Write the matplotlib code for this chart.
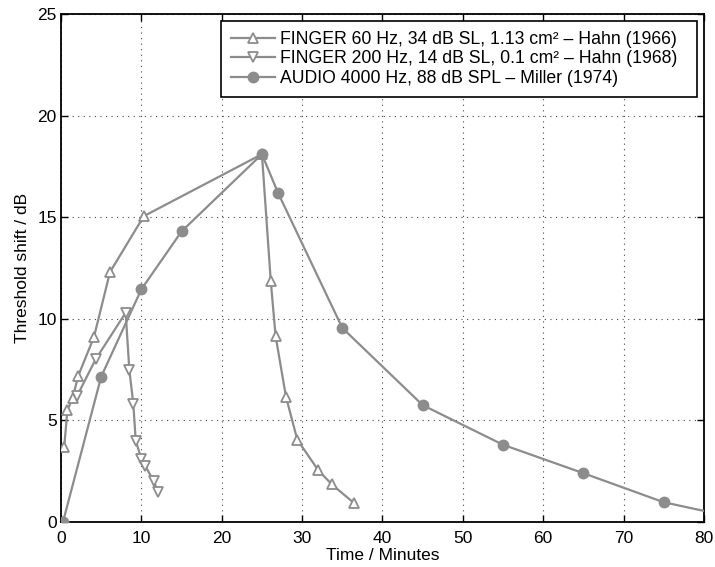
import matplotlib
matplotlib.use('Agg')
import matplotlib.pyplot as plt

# FINGER 60 Hz - Hahn (1966)
f60_time = [0.4, 0.8, 1.45, 2.15, 4.1, 6.1, 10.3, 25.0, 26.1, 26.7, 28.0, 29.4, 32.0, 33.7, 36.4]
f60_shift = [3.7, 5.5, 6.1, 7.2, 9.1, 12.3, 15.05, 18.1, 11.85, 9.15, 6.15, 4.05, 2.55, 1.85, 0.95]

# FINGER 200 Hz - Hahn (1968)
f200_time = [2.0, 4.3, 8.05, 8.5, 9.0, 9.3, 10.0, 10.5, 11.55, 12.05]
f200_shift = [6.2, 8.0, 10.3, 7.5, 5.8, 4.0, 3.1, 2.75, 2.0, 1.5]

# AUDIO 4000 Hz - Miller (1974)
audio_time = [0.25, 5.0, 10.0, 15.0, 25.0, 27.0, 35.0, 45.0, 55.0, 65.0, 75.0, 85.0]
audio_shift = [0.0, 7.15, 11.45, 14.3, 18.1, 16.2, 9.55, 5.75, 3.8, 2.4, 0.97, 0.12]

labels = ['FINGER 60 Hz, 34 dB SL, 1.13 cm² – Hahn (1966)',
          'FINGER 200 Hz, 14 dB SL, 0.1 cm² – Hahn (1968)',
          'AUDIO 4000 Hz, 88 dB SPL – Miller (1974)']

plt.rcParams['font.family'] = ['Liberation Sans', 'DejaVu Sans']
plt.rcParams['font.size'] = 12.5

gray = '#8c8c8c'

fig = plt.figure(figsize=(7.15, 5.67), dpi=100)
ax = fig.add_axes([0.0853, 0.0794, 0.8993, 0.8959])

# trailing spaces give the wider right margin of the original legend box
ax.plot(f60_time, f60_shift, color=gray, lw=1.6, marker='^', ms=7.5,
        mfc='white', mec=gray, mew=1.3, label=labels[0] + '  ', zorder=3)
ax.plot(f200_time, f200_shift, color=gray, lw=1.6, marker='v', ms=7.5,
        mfc='white', mec=gray, mew=1.3, label=labels[1] + '  ', zorder=3)
ax.plot(audio_time, audio_shift, color=gray, lw=1.6, marker='o', ms=7.5,
        mfc=gray, mec=gray, label=labels[2] + '  ', zorder=3)

ax.set_xlim(0, 80)
ax.set_ylim(0, 25)
ax.set_xticks(range(0, 81, 10))
ax.set_yticks(range(0, 26, 5))
ax.grid(True, linestyle=(0, (1, 4)), color='#444444', lw=0.8)
ax.tick_params(direction='in', top=True, right=True, length=5, width=1, pad=3)
ax.tick_params(axis='x', pad=6.5)
for s in ax.spines.values():
    s.set_linewidth(1.3)

ax.set_xlabel('Time / Minutes', labelpad=1.5)
ax.set_ylabel('Threshold shift / dB', labelpad=5)

leg = ax.legend(loc='upper right', fancybox=False, framealpha=1,
                edgecolor='black', borderpad=0.55, labelspacing=0.15,
                handlelength=2.5, handletextpad=0.3, borderaxespad=0.4,
                fontsize=12.7)
leg.get_frame().set_linewidth(1.2)

fig.savefig('out.png', dpi=100)
